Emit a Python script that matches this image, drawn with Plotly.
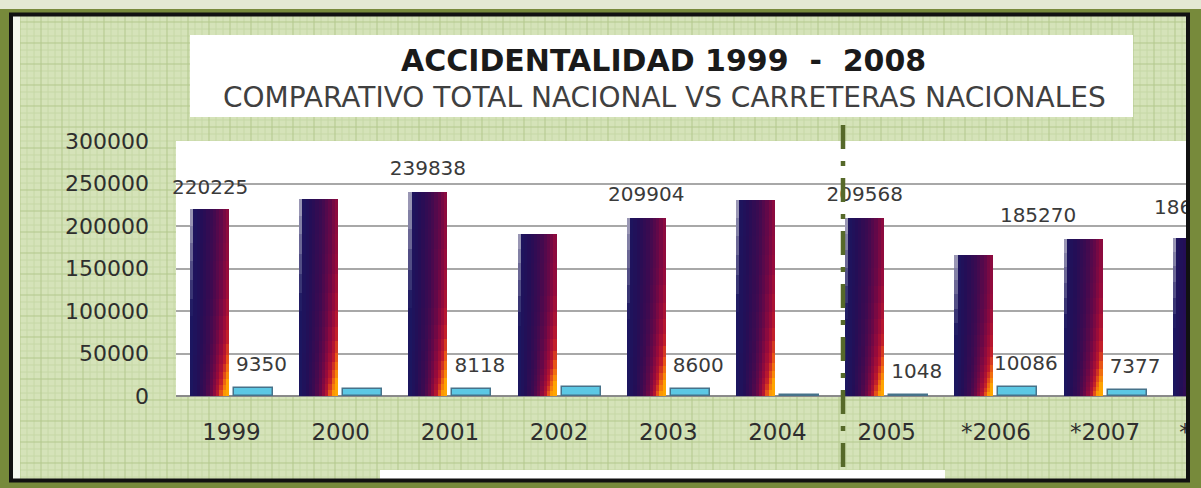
import plotly.graph_objects as go

# ---------------- data ----------------
years = ["1999", "2000", "2001", "2002", "2003", "2004", "2005", "*2006", "*2007", "*2008"]
total_nacional = [220225, 232100, 239838, 190300, 209904, 230200, 209568, 165900, 185270, 186000]
carreteras_nacionales = [9350, 8700, 8118, 10100, 8600, 900, 1048, 10086, 7377, 7000]
total_label_shown = [True, False, True, False, True, False, True, False, True, True]
carreteras_label_shown = [True, False, True, False, True, False, True, True, True, False]
y_ticks = [0, 50000, 100000, 150000, 200000, 250000, 300000]

# ---------------- geometry / style constants ----------------
W, H = 1201, 488
PLOT_L, PLOT_R = 176, 1186
PLOT_T, ZERO_Y, PLOT_B = 141, 396, 466
CAT0_PX, CAT_STEP_PX = 231.5, 109.2
Y_MAX = y_ticks[-1]
U_Y = Y_MAX / (ZERO_Y - PLOT_T)          # data units per pixel (y)
FONT = "DejaVu Sans"


def ux(px):
    return px / CAT_STEP_PX


DARK_OFF, LIGHT_OFF, BAR_W = ux(-41.5), ux(2.5), ux(39)
X_RANGE = [ux(PLOT_L - CAT0_PX), ux(PLOT_R - CAT0_PX)]
Y_RANGE = [-(PLOT_B - ZERO_Y) * U_Y, Y_MAX]
LABEL_GAP_PX = 22
XLABEL_Y = -(434 - ZERO_Y) * U_Y
# manual nudges of some data labels (px): index -> (dx, dy)
DARK_NUDGE = {8: (-45, 0), 9: (0, 7)}
LIGHT_DX = 8

STOPS = [(0.0, (26, 24, 98)), (0.25, (36, 14, 86)), (0.45, (62, 10, 80)),
         (0.6, (102, 8, 72)), (0.72, (150, 10, 60)), (0.82, (192, 26, 44)),
         (0.9, (236, 92, 20)), (1.0, (255, 165, 0))]


def cmap(s):
    s = max(0.0, min(1.0, s))
    for (a, ca), (b, cb) in zip(STOPS[:-1], STOPS[1:]):
        if s <= b:
            t = (s - a) / (b - a)
            return [ca[i] + (cb[i] - ca[i]) * t for i in range(3)]
    return list(STOPS[-1][1])


def bar_color(u, v):
    s = u ** 0.9 * (0.72 + 0.28 * (1 - v) ** 2) + 0.15 * u ** 2 * (1 - v) ** 8
    c = cmap(s)
    w = max(0.0, 1 - u / 0.12) * max(0.0, (v - 0.45) / 0.55) * 1.0
    c = [ci + (236 - ci) * w for ci in c]
    return "rgb(%d,%d,%d)" % tuple(int(round(ci)) for ci in c)


idx = list(range(len(years)))
fig = go.Figure()

# ---- gradient dark bars (Total nacional) built from slices ----
N_COLS = 12
ROW_EDGES = [0, .03, .06, .09, .13, .17, .22, .28, .35, .43, .52, .62, .72, .82, .91, 1.0]
slice_w = BAR_W / N_COLS
for c in range(N_COLS):
    u = (c + 0.5) / N_COLS
    off = DARK_OFF + c * slice_w
    w = slice_w * 1.3 if c < N_COLS - 1 else slice_w
    for r in range(len(ROW_EDGES) - 1):
        f0, f1 = ROW_EDGES[r], ROW_EDGES[r + 1]
        v = (f0 + f1) / 2
        ext = 0.008 if r < len(ROW_EDGES) - 2 else 0
        fig.add_bar(x=idx, y=[t * (f1 - f0 + ext) for t in total_nacional],
                    base=[t * f0 for t in total_nacional],
                    offset=off, width=w, marker_color=bar_color(u, v),
                    marker_line_width=0, hoverinfo="skip", showlegend=False)

# ---- light bars (Carreteras nacionales) ----
fig.add_bar(x=idx, y=carreteras_nacionales, offset=LIGHT_OFF, width=BAR_W,
            marker=dict(color="#5cc8e4", line=dict(color="#46728a", width=1.5)),
            hoverinfo="skip", showlegend=False)

# ---- value labels ----
# labels are clipped by the plot area (as in the cropped original); the first one,
# which overflows to the left, is an annotation so that it is not clipped.
LABEL_FONT = dict(family=FONT, size=20, color="#3a3a3a")
annotations = []
xs, ys, ts = [], [], []
for i, (val, shown) in enumerate(zip(total_nacional, total_label_shown)):
    if not shown:
        continue
    ndx, ndy = DARK_NUDGE.get(i, (0, 0))
    lx = i + DARK_OFF + BAR_W / 2
    if i == 0:
        annotations.append(dict(x=lx, y=val, xref="x", yref="y", text=str(val),
                                showarrow=False, xanchor="center", yanchor="middle",
                                xshift=ndx, yshift=LABEL_GAP_PX + ndy, font=LABEL_FONT))
    else:
        xs.append(lx + ux(ndx))
        ys.append(val + (LABEL_GAP_PX + ndy) * U_Y)
        ts.append(str(val))
for i, (val, shown) in enumerate(zip(carreteras_nacionales, carreteras_label_shown)):
    if shown:
        xs.append(i + LIGHT_OFF + BAR_W / 2 + ux(LIGHT_DX))
        ys.append(val + LABEL_GAP_PX * U_Y)
        ts.append(str(val))
fig.add_scatter(x=xs, y=ys, text=ts, mode="text", textposition="middle center",
                textfont=LABEL_FONT, cliponaxis=True, hoverinfo="skip", showlegend=False)

# ---- category labels ----
fig.add_scatter(x=idx, y=[XLABEL_Y] * len(idx), text=years, mode="text",
                textposition="middle center",
                textfont=dict(family=FONT, size=23, color="#2e2e2e"),
                cliponaxis=True, hoverinfo="skip", showlegend=False)


# ---------------- decoration ----------------
def px_x(p):
    return p / W


def px_y(p):
    return 1 - p / H


def rect(x0, y0, x1, y1, fill, layer="below"):
    return dict(type="rect", xref="paper", yref="paper", x0=px_x(x0), x1=px_x(x1),
                y0=px_y(y0), y1=px_y(y1), layer=layer, fillcolor=fill,
                line=dict(width=0))


shapes = []
shapes.append(rect(0, 0, W, 9, "#e3e9d3"))
shapes.append(rect(13, 16, 1186, 479, "#d5e3b9"))

minor, major = "", ""
k = 0
for x in range(20, 1186, 7):
    seg = "M%.5f,%.5fL%.5f,%.5f" % (px_x(x), px_y(16), px_x(x), px_y(479))
    if k % 3 == 0:
        major += seg
    else:
        minor += seg
    k += 1
k = 0
for y in range(22, 479, 7):
    seg = "M%.5f,%.5fL%.5f,%.5f" % (px_x(13), px_y(y), px_x(1186), px_y(y))
    if k % 3 == 0:
        major += seg
    else:
        minor += seg
    k += 1
shapes.append(dict(type="path", xref="paper", yref="paper", path=minor, layer="below",
                   line=dict(color="#c6d8a6", width=1)))
shapes.append(dict(type="path", xref="paper", yref="paper", path=major, layer="below",
                   line=dict(color="#b3c88d", width=1)))
shapes.append(rect(13, 16, 20, 479, "#f4f7ee"))
shapes.append(rect(190, 35, 1133, 117, "#ffffff"))
shapes.append(rect(380, 470, 945, 479, "#ffffff"))
# white plot area (above zero only)
shapes.append(dict(type="rect", xref="x domain", yref="y", x0=0, x1=1, y0=0, y1=Y_MAX,
                   fillcolor="#ffffff", line=dict(width=0), layer="below"))
# dashed separator
shapes.append(dict(type="line", xref="paper", yref="paper", x0=px_x(843), x1=px_x(843),
                   y0=px_y(125), y1=px_y(468), layer="above",
                   line=dict(color="#56692a", width=4.5, dash="24px,12px,5px,12px")))
# black frame
shapes.append(dict(type="rect", xref="paper", yref="paper", x0=px_x(11), x1=px_x(1188),
                   y0=px_y(14.5), y1=px_y(480.5), layer="above",
                   line=dict(color="#111111", width=4), fillcolor="rgba(0,0,0,0)"))

annotations += [
    dict(text="<b>ACCIDENTALIDAD 1999\u00a0\u00a0-\u00a0\u00a02008</b>", xref="paper", yref="paper",
         x=px_x(663), y=px_y(60), xanchor="center", yanchor="middle", showarrow=False,
         font=dict(family=FONT, size=30, color="#1a1a1a")),
    dict(text="COMPARATIVO TOTAL NACIONAL VS CARRETERAS NACIONALES", xref="paper", yref="paper",
         x=px_x(664), y=px_y(98), xanchor="center", yanchor="middle", showarrow=False,
         font=dict(family=FONT, size=28, color="#404040")),
]

fig.update_layout(
    width=W, height=H, autosize=False,
    margin=dict(l=0, r=0, t=0, b=0, pad=0, autoexpand=False),
    paper_bgcolor="#778a3b", plot_bgcolor="rgba(0,0,0,0)",
    barmode="overlay", bargap=0,
    shapes=shapes, annotations=annotations, showlegend=False,
    xaxis=dict(domain=[px_x(PLOT_L), px_x(PLOT_R)], range=X_RANGE, showgrid=False,
               zeroline=False, showticklabels=False, ticks="", showline=False,
               fixedrange=True, automargin=False),
    yaxis=dict(domain=[px_y(PLOT_B), px_y(PLOT_T)], range=Y_RANGE, tickvals=y_ticks,
               ticktext=[str(t) for t in y_ticks], showgrid=True, gridcolor="#a8a8a8",
               gridwidth=1.5, zeroline=True, zerolinecolor="#8a8a8a", zerolinewidth=2,
               showline=False, ticks="", ticklabelstandoff=26, automargin=False,
               tickfont=dict(family=FONT, size=22, color="#2e2e2e"), fixedrange=True),
)

fig.write_html("out.html")
